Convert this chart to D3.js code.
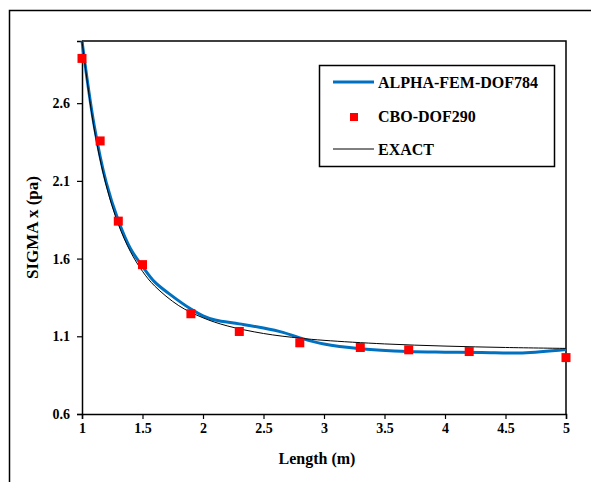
<!DOCTYPE html>
<html>
<head>
<meta charset="utf-8">
<script src="https://cdn.jsdelivr.net/npm/d3@7"></script>
<style>
  body { margin: 0; background: #fff; }
  text { font-family: "Liberation Serif", Tinos, "Times New Roman", serif; font-weight: bold; }
</style>
</head>
<body>
<div id="vis"></div>
<script>
// values
var xTicks = [1, 1.5, 2, 2.5, 3, 3.5, 4, 4.5, 5];
var yTicks = [0.6, 1.1, 1.6, 2.1, 2.6];

// EXACT solution
var exactX = [1, 1.1, 1.2, 1.3, 1.4, 1.5, 1.6, 1.8, 2.0, 2.2, 2.5, 2.8, 3.0, 3.5, 4.0, 4.5, 5.0];
var exactY = [3.0, 2.438, 2.071, 1.821, 1.645, 1.518, 1.424, 1.297, 1.219, 1.167, 1.118, 1.088, 1.074, 1.051, 1.037, 1.028, 1.022];

// ALPHA-FEM-DOF784
var alphaX = [1, 1.1, 1.2, 1.3, 1.4, 1.5, 1.6, 1.73, 1.9, 2.0, 2.1, 2.3, 2.5, 2.66, 2.8, 3.0, 3.3, 3.7, 4.0, 4.3, 4.64, 5.0];
var alphaY = [3.0, 2.46, 2.09, 1.845, 1.665, 1.55, 1.45, 1.368, 1.275, 1.232, 1.205, 1.18, 1.153, 1.125, 1.09, 1.05, 1.02, 1.002, 0.998, 0.996, 0.993, 1.015];

// CBO-DOF290
var cboX = [1, 1.15, 1.3, 1.5, 1.9, 2.3, 2.8, 3.3, 3.7, 4.2, 5];
var cboY = [2.888, 2.357, 1.841, 1.561, 1.245, 1.131, 1.058, 1.028, 1.013, 1.002, 0.963];

var width = 591;
var height = 482;
var margin = { top: 41, left: 82, bottom: 68, right: 25 };

var svg = d3.select('#vis')
  .append('svg')
  .attr('width', width)
  .attr('height', height);

// outer frame (runs off the right and bottom edges)
svg.append('path')
  .attr('d', 'M9.5,' + (height + 5) + 'V10.5H' + (width + 5))
  .attr('fill', 'none')
  .attr('stroke', '#000')
  .attr('stroke-width', 1.5);

var x = d3.scaleLinear()
  .domain([1, 5])
  .range([margin.left, width - margin.right]);

var y = d3.scaleLinear()
  .domain([0.6, 3.0])
  .range([height - margin.bottom, margin.top]);

// plot area border: top and right
svg.append('path')
  .attr('d', 'M' + x(1) + ',' + y(3.0) + 'H' + x(5) + 'V' + y(0.6))
  .attr('fill', 'none')
  .attr('stroke', '#000')
  .attr('stroke-width', 1.5);

var xAxis = svg.append('g')
  .attr('transform', 'translate(0,' + y(0.6) + ')')
  .call(d3.axisBottom(x).tickValues(xTicks).tickSize(5).tickPadding(4)
    .tickFormat(d3.format('')));

var yAxis = svg.append('g')
  .attr('transform', 'translate(' + x(1) + ',0)')
  .call(d3.axisLeft(y).tickValues(yTicks).tickSize(5).tickPadding(7)
    .tickFormat(d3.format('.1f')));

[xAxis, yAxis].forEach(function (a) {
  a.attr('font-family', null);
  a.select('.domain').attr('stroke-width', 1.5);
  a.selectAll('.tick line').attr('stroke-width', 1.2);
  a.selectAll('.tick text')
    .attr('font-size', 14)
    .attr('fill', '#000');
});

// axis titles
svg.append('text')
  .attr('x', 317)
  .attr('y', 464)
  .attr('text-anchor', 'middle')
  .attr('font-size', 16)
  .text('Length (m)');

svg.append('text')
  .attr('transform', 'translate(38,' + (y(0.6) + y(3.0)) / 2 + ') rotate(-90)')
  .attr('text-anchor', 'middle')
  .attr('font-size', 17)
  .text('SIGMA x (pa)');

var line = d3.line()
  .x(function (d) { return x(d[0]); })
  .y(function (d) { return y(d[1]); })
  .curve(d3.curveCatmullRom.alpha(0.5));

svg.append('path')
  .datum(d3.zip(alphaX, alphaY))
  .attr('d', line)
  .attr('fill', 'none')
  .attr('stroke', '#0070C0')
  .attr('stroke-width', 3);

svg.append('path')
  .datum(d3.zip(exactX, exactY))
  .attr('d', line)
  .attr('fill', 'none')
  .attr('stroke', '#000')
  .attr('stroke-width', 1);

var ms = 9;
svg.selectAll('rect.cbo')
  .data(d3.zip(cboX, cboY)).enter()
  .append('rect')
  .attr('class', 'cbo')
  .attr('x', function (d) { return x(d[0]) - ms / 2; })
  .attr('y', function (d) { return y(d[1]) - ms / 2; })
  .attr('width', ms)
  .attr('height', ms)
  .attr('fill', '#FF0000');

// legend
var lg = svg.append('g');
lg.append('rect')
  .attr('x', 319.5)
  .attr('y', 65.5)
  .attr('width', 235)
  .attr('height', 101)
  .attr('fill', '#fff')
  .attr('stroke', '#000')
  .attr('stroke-width', 1.5);

lg.append('line')
  .attr('x1', 333).attr('x2', 374)
  .attr('y1', 82).attr('y2', 82)
  .attr('stroke', '#0070C0')
  .attr('stroke-width', 3);

lg.append('rect')
  .attr('x', 354 - 4).attr('y', 117 - 4)
  .attr('width', 8).attr('height', 8)
  .attr('fill', '#FF0000');

lg.append('line')
  .attr('x1', 333).attr('x2', 374)
  .attr('y1', 149).attr('y2', 149)
  .attr('stroke', '#000')
  .attr('stroke-width', 1);

lg.selectAll('text.lab')
  .data(['ALPHA-FEM-DOF784', 'CBO-DOF290', 'EXACT']).enter()
  .append('text')
  .attr('class', 'lab')
  .attr('x', 378)
  .attr('y', function (d, i) { return [88, 122, 155][i]; })
  .attr('font-size', 16)
  .text(function (d) { return d; });
</script>
</body>
</html>
